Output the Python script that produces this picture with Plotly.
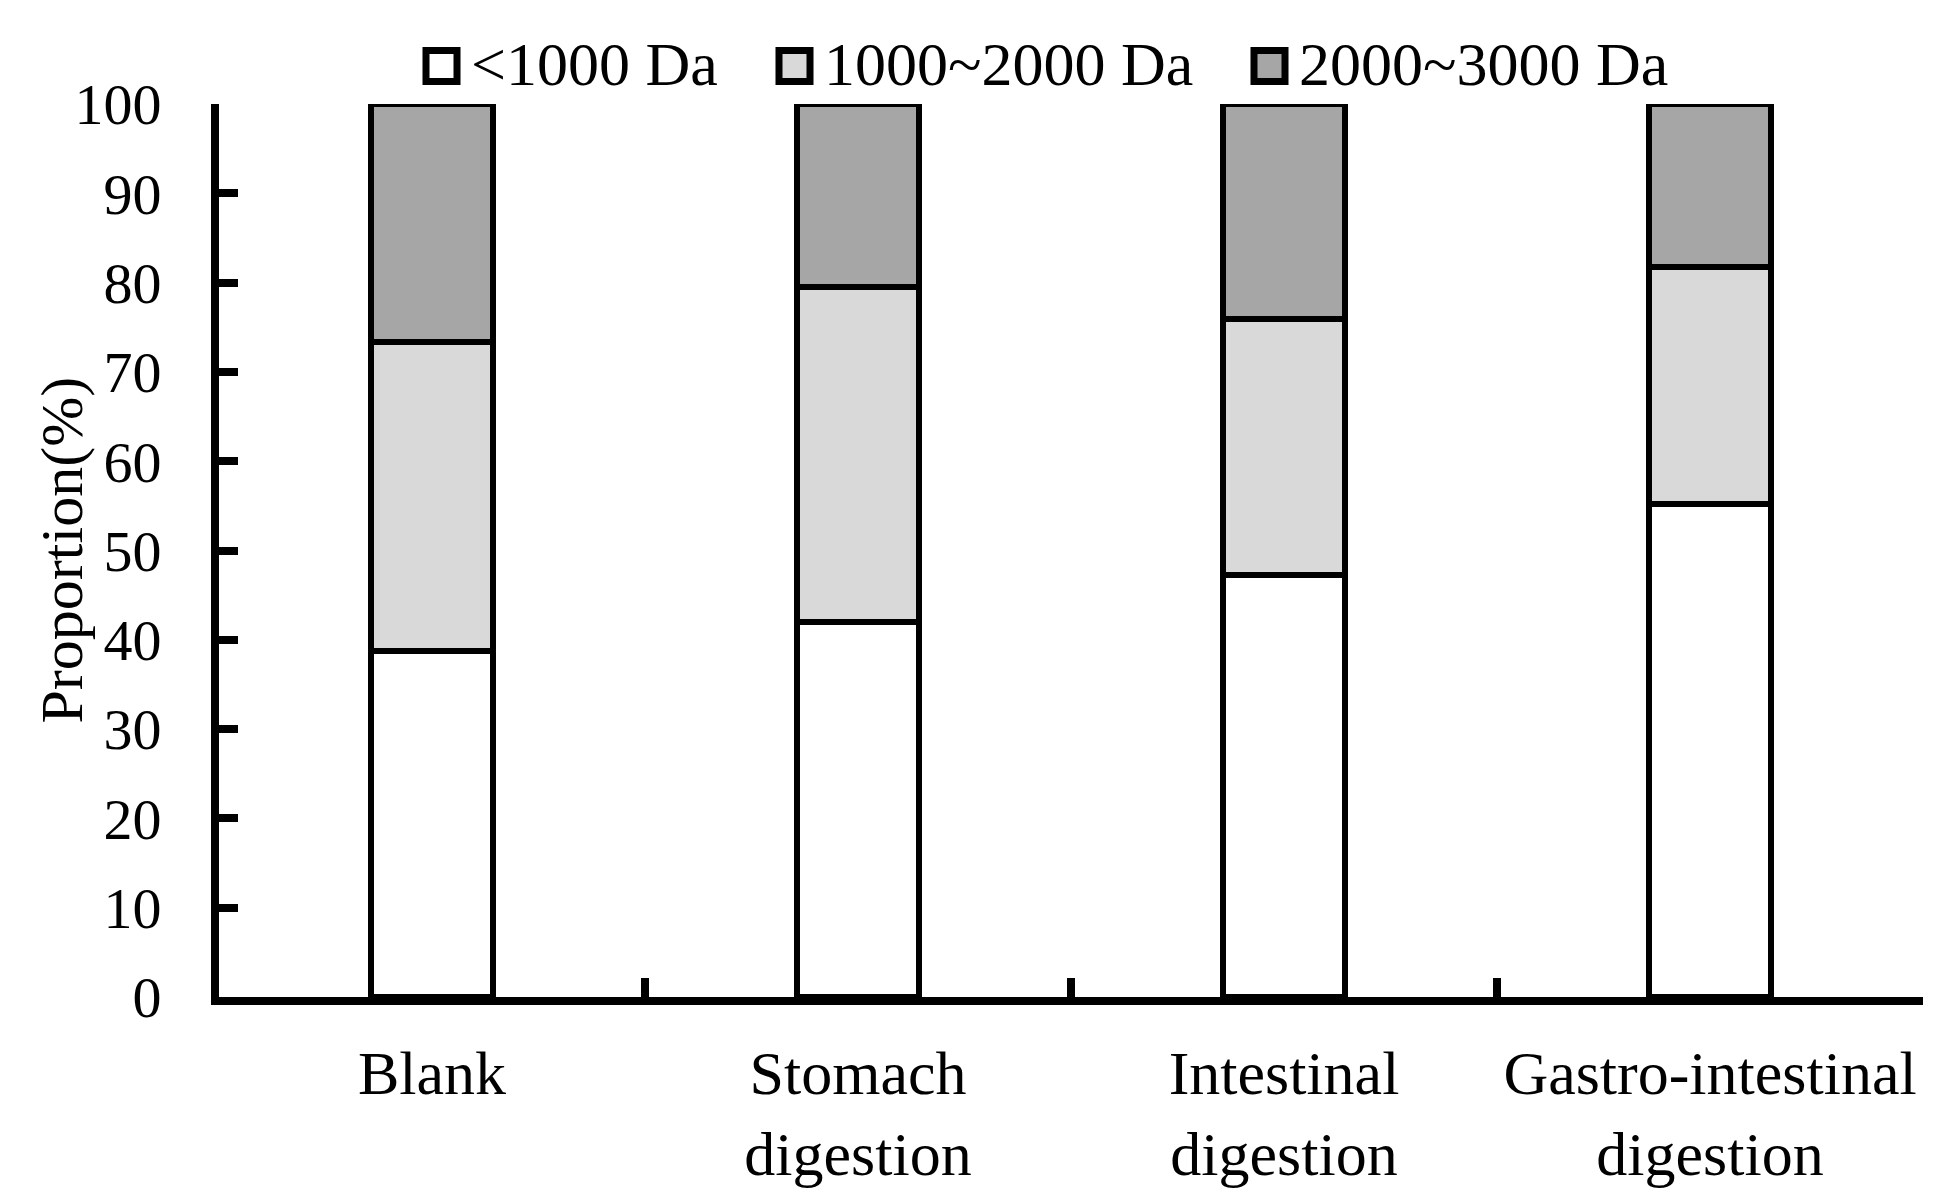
import plotly.graph_objects as go

categories = ["Blank", "Stomach<br>digestion", "Intestinal<br>digestion", "Gastro-intestinal<br>digestion"]
series_names = ["<1000 Da", "1000~2000 Da", "2000~3000 Da"]
lt1000 = [38.7, 42.0, 47.3, 55.2]
mid = [34.7, 37.5, 28.6, 26.5]
high = [26.6, 20.5, 24.1, 18.3]
colors = ["#FFFFFF", "#D9D9D9", "#A6A6A6"]

FONT = "Liberation Serif"
W, H = 1945, 1192
ML, MR, MT, MB = 211, 30, 96, 203
PW, PH = W - ML - MR, H - MT - MB

def px_x(p):
    return (p - ML) / PW

def px_y(p):
    return (H - MB - p) / PH

fig = go.Figure()
for name, vals, col in zip(series_names, [lt1000, mid, high], colors):
    fig.add_trace(go.Bar(
        x=categories, y=vals, name=name, showlegend=False,
        marker=dict(color=col, line=dict(color="black", width=6)),
        width=0.286,
    ))

# custom legend (box + text) across the top
legend_box_left = [415, 768, 1243]
box_size = 37
legend_cy = 58
shapes = []
annotations = []
for name, col, bx in zip(series_names, colors, legend_box_left):
    shapes.append(dict(
        type="rect", xref="paper", yref="paper",
        x0=px_x(bx + 3), x1=px_x(bx + box_size - 3),
        y0=px_y(legend_cy + box_size / 2 - 3), y1=px_y(legend_cy - box_size / 2 + 3),
        fillcolor=col, line=dict(color="black", width=7), layer="above",
    ))
    annotations.append(dict(
        text=name, showarrow=False, xref="paper", yref="paper",
        x=px_x(bx + box_size + 9), y=px_y(legend_cy - 2),
        xanchor="left", yanchor="middle",
        font=dict(family=FONT, size=62, color="black"),
    ))

annotations.append(dict(
    text="Proportion(%)", textangle=-90, showarrow=False,
    xref="paper", yref="paper", x=px_x(53), y=0.5,
    xanchor="center", yanchor="middle",
    font=dict(family=FONT, size=60, color="black"),
))

fig.update_layout(
    barmode="stack",
    width=W, height=H,
    margin=dict(l=ML, r=MR, t=MT, b=MB),
    paper_bgcolor="white", plot_bgcolor="white",
    font=dict(family=FONT, size=60, color="black"),
    showlegend=False,
    xaxis=dict(
        type="category", range=[-0.5, 3.5], automargin=False,
        showline=True, linecolor="black", linewidth=8,
        ticks="inside", ticklen=19, tickwidth=8, tickcolor="black",
        tickson="boundaries", tickangle=0,
        tickfont=dict(family=FONT, size=62, color="black"),
        ticklabelstandoff=15,
        showgrid=False, zeroline=False,
    ),
    yaxis=dict(
        range=[0, 100], tickvals=list(range(0, 101, 10)), automargin=False,
        showline=True, linecolor="black", linewidth=8,
        ticks="inside", ticklen=19, tickwidth=8, tickcolor="black",
        tickfont=dict(family=FONT, size=58, color="black"),
        ticklabelstandoff=38,
        showgrid=False, zeroline=False,
    ),
    shapes=shapes,
    annotations=annotations,
)

fig.write_html("out.html")
